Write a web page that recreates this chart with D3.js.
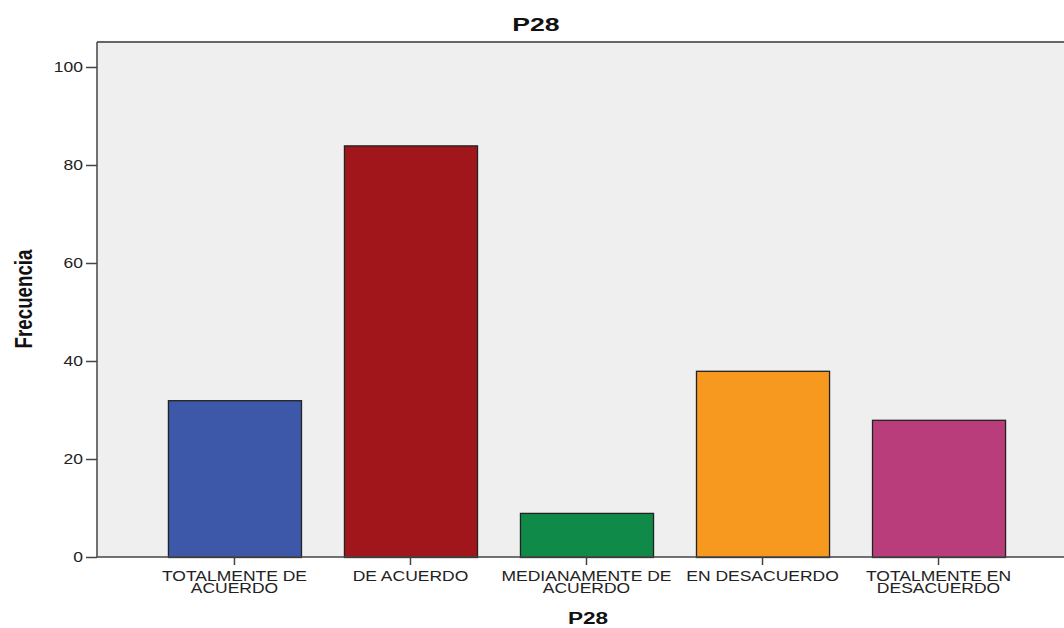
<!DOCTYPE html>
<html lang="es">
<head>
<meta charset="UTF-8">
<title>P28</title>
<script src="https://d3js.org/d3.v7.min.js"></script>
<style>
    body { margin: 0; background: #fff; }
    svg { display: block; }
    .tick text { font-family: "Liberation Sans", Arial, sans-serif; font-size: 14px; fill: #222; }
</style>
</head>
<body>
<svg id="chart" width="1064" height="628"></svg>
<script>
const categories = [
    ["TOTALMENTE DE", "ACUERDO"],
    ["DE ACUERDO"],
    ["MEDIANAMENTE DE", "ACUERDO"],
    ["EN DESACUERDO"],
    ["TOTALMENTE EN", "DESACUERDO"]
];
const frecuencias = [32, 84, 9, 38, 28];
const colores = ["#3d58a9", "#a0161b", "#0f8a48", "#f7981f", "#b93d7b"];
const yTicks = [0, 20, 40, 60, 80, 100];

const svg = d3.select("#chart");
const plotLeft = 97, plotTop = 42, plotBottom = 557, plotRight = 1076;
const stretch = 1.25; // the original text is drawn wide

const keys = categories.map(c => c.join(" "));
const x = d3.scaleBand().domain(keys).range([plotLeft, plotRight])
    .paddingInner(0.244).paddingOuter(0.403);
const y = d3.scaleLinear().domain([0, 105.1]).range([plotBottom, plotTop]);

// plot background
svg.append("rect")
    .attr("x", plotLeft).attr("y", plotTop)
    .attr("width", plotRight - plotLeft).attr("height", plotBottom - plotTop)
    .attr("fill", "#efefef");

// bars
svg.selectAll(".bar")
    .data(frecuencias)
    .enter().append("rect")
    .attr("class", "bar")
    .attr("x", (d, i) => x(keys[i]) + 0.5)
    .attr("y", d => y(d) + 0.5)
    .attr("width", x.bandwidth())
    .attr("height", d => plotBottom - y(d))
    .attr("fill", (d, i) => colores[i])
    .attr("stroke", "#222")
    .attr("stroke-width", 1.3);

// top frame line
svg.append("line")
    .attr("x1", plotLeft).attr("x2", 1064)
    .attr("y1", plotTop).attr("y2", plotTop)
    .attr("stroke", "#666").attr("stroke-width", 2);

// y axis
const yAxis = svg.append("g")
    .attr("transform", "translate(" + plotLeft + ",0)")
    .call(d3.axisLeft(y).tickValues(yTicks).tickSize(11).tickPadding(3));
yAxis.select(".domain").attr("stroke", "#444").attr("stroke-width", 1.5)
    .attr("d", "M0," + plotTop + "V" + plotBottom);
yAxis.selectAll(".tick line").attr("stroke", "#444").attr("stroke-width", 1.5);
yAxis.selectAll(".tick text")
    .attr("x", 0)
    .attr("transform", "translate(-14,0) scale(" + stretch + ",1)");

// x axis
const xAxis = svg.append("g")
    .attr("transform", "translate(0," + plotBottom + ")")
    .call(d3.axisBottom(x).tickSize(8).tickFormat(""));
xAxis.select(".domain").attr("stroke", "#444").attr("stroke-width", 1.5)
    .attr("d", "M" + plotLeft + ",0H1064");
xAxis.selectAll(".tick line").attr("stroke", "#444").attr("stroke-width", 1.5);
xAxis.selectAll(".tick").each(function(d, i) {
    const t = d3.select(this).select("text")
        .attr("y", 0).attr("dy", 0)
        .attr("transform", "scale(" + stretch + ",1)");
    categories[i].forEach((line, j) => {
        t.append("tspan").attr("x", 0).attr("y", 24 + j * 12).text(line);
    });
});

// titles
svg.append("text")
    .attr("transform", "translate(536,31) scale(1.4,1)")
    .attr("text-anchor", "middle")
    .style("font-family", "Liberation Sans, Arial, sans-serif")
    .style("font-size", "19px").style("font-weight", "bold").style("fill", "#111")
    .text("P28");

svg.append("text")
    .attr("transform", "translate(588,624) scale(1.33,1)")
    .attr("text-anchor", "middle")
    .style("font-family", "Liberation Sans, Arial, sans-serif")
    .style("font-size", "17px").style("font-weight", "bold").style("fill", "#111")
    .text("P28");

svg.append("text")
    .attr("transform", "translate(32,299) rotate(-90) scale(0.78,1)")
    .attr("text-anchor", "middle")
    .style("font-family", "Liberation Sans, Arial, sans-serif")
    .style("font-size", "24px").style("font-weight", "bold").style("fill", "#111")
    .text("Frecuencia");
</script>
</body>
</html>
